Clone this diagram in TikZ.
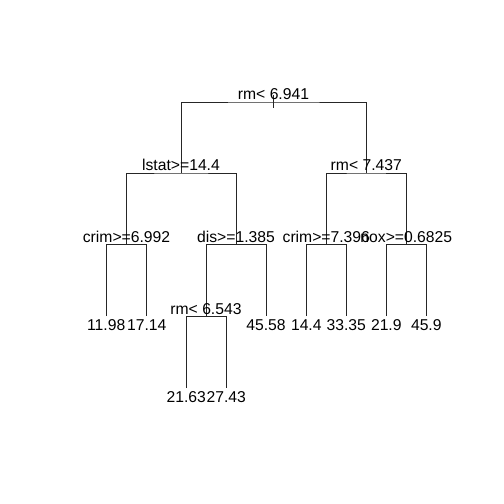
\documentclass[tikz,border=0pt]{standalone}
\usepackage{fontspec}
\setmainfont{Liberation Sans}
\begin{document}
\begin{tikzpicture}[x=1pt,y=-1pt,
  br/.style={draw=black!85,line width=0.9pt},
  splitlab/.style={anchor=base,inner sep=0pt,font=\fontsize{15.7}{17}\selectfont,yshift=2.4pt},
  leaflab/.style={anchor=base,inner sep=0pt,font=\fontsize{15.7}{17}\selectfont,yshift=-14.5pt}]
\useasboundingbox (0,0) rectangle (504,504);
% internal nodes
\coordinate (root) at (273.5,102);
\coordinate (n2) at (181,173);
\coordinate (n3) at (366.3,173);
\coordinate (n4) at (126.5,244.5);
\coordinate (n5) at (236,244.5);
\coordinate (n6) at (326.3,244.5);
\coordinate (n7) at (406.3,244.5);
\coordinate (n10) at (206,316.5);
% leaves
\coordinate (l1) at (106.2,316);
\coordinate (l2) at (146.7,316);
\coordinate (l3) at (186.3,388);
\coordinate (l4) at (226.3,388);
\coordinate (l5) at (266,316);
\coordinate (l6) at (306.3,316);
\coordinate (l7) at (346.3,316);
\coordinate (l8) at (386.3,316);
\coordinate (l9) at (426.3,316);
% branches
\coordinate (rtop) at (273.5,95);
\coordinate (rbot) at (273.5,108);
\draw[br] (rtop) -- (rbot);
\draw[br] (n2) |- (root) -| (n3);
\draw[br] (n4) |- (n2) -| (n5);
\draw[br] (n6) |- (n3) -| (n7);
\draw[br] (l1) |- (n4) -| (l2);
\draw[br] (n10) |- (n5) -| (l5);
\draw[br] (l6) |- (n6) -| (l7);
\draw[br] (l8) |- (n7) -| (l9);
\draw[br] (l3) |- (n10) -| (l4);
% split labels
\node[splitlab] (t1) at (root) {rm< 6.941};
\node[splitlab] (t2) at (n2) {lstat>=14.4};
\node[splitlab] (t3) at (n3) {rm< 7.437};
\node[splitlab] (t4) at (n4) {crim>=6.992};
\node[splitlab] (t5) at (n5) {dis>=1.385};
\node[splitlab] (t6) at (n6) {crim>=7.396};
\node[splitlab] (t7) at (n7) {nox>=0.6825};
\node[splitlab] (t10) at (n10) {rm< 6.543};
% leaf labels
\node[leaflab] (v1) at (l1) {11.98};
\node[leaflab] (v2) at (l2) {17.14};
\node[leaflab] (v3) at (l3) {21.63};
\node[leaflab] (v4) at (l4) {27.43};
\node[leaflab] (v5) at (l5) {45.58};
\node[leaflab] (v6) at (l6) {14.4};
\node[leaflab] (v7) at (l7) {33.35};
\node[leaflab] (v8) at (l8) {21.9};
\node[leaflab] (v9) at (l9) {45.9};
\end{tikzpicture}
\end{document}
